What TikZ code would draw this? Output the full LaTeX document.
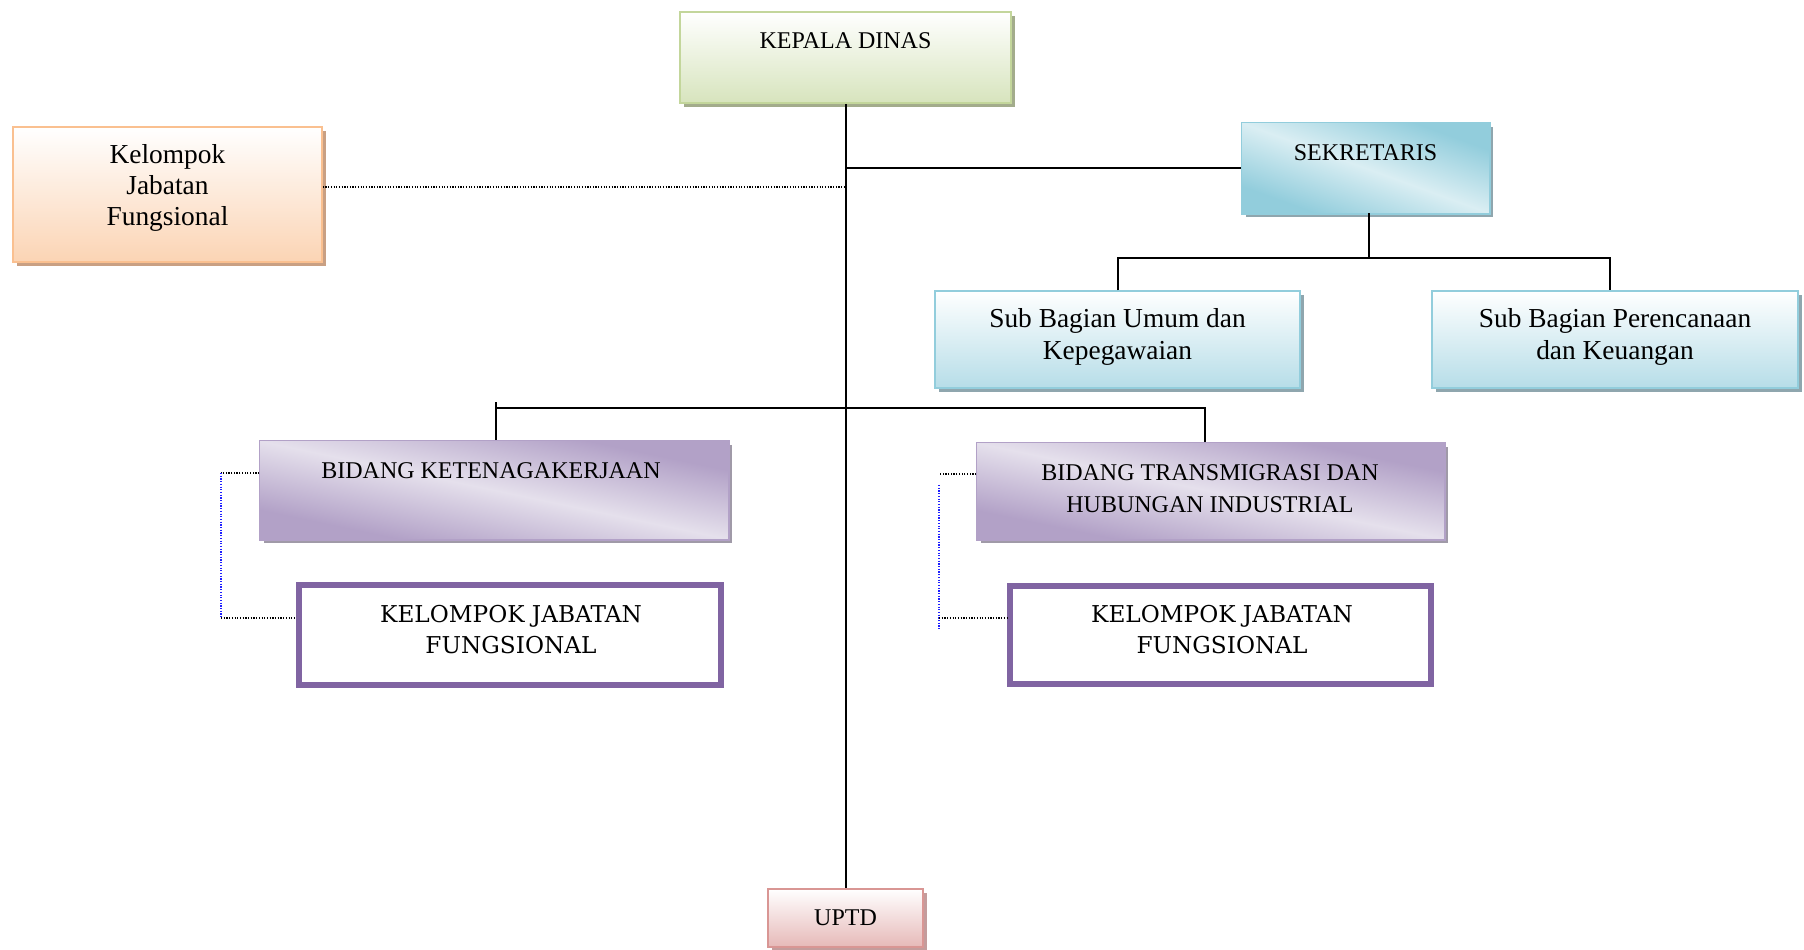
\documentclass[tikz,border=0pt]{standalone}
\usepackage{fontspec}
\setmainfont{Liberation Serif}
\newfontfamily\schfont{DejaVu Serif}
\usetikzlibrary{shadows}
\definecolor{grnbd}{HTML}{C3D69B}
\definecolor{grnfl}{HTML}{D7E4BD}
\definecolor{grnsh}{HTML}{A3AC8C}
\definecolor{orgbd}{HTML}{FAC090}
\definecolor{orgfl}{HTML}{FBD4B4}
\definecolor{orgsh}{HTML}{C9A083}
\definecolor{blubd}{HTML}{92CDDC}
\definecolor{blufl}{HTML}{B6DDE8}
\definecolor{blult}{HTML}{DAEEF3}
\definecolor{blush}{HTML}{8FA6AE}
\definecolor{purbd}{HTML}{B2A1C7}
\definecolor{purlt}{HTML}{E5E0EC}
\definecolor{pursh}{HTML}{A09AA8}
\definecolor{pnkbd}{HTML}{D99694}
\definecolor{pnkfl}{HTML}{E6B9B8}
\definecolor{pnksh}{HTML}{C49C9C}
\definecolor{kjfbd}{HTML}{8064A2}
\definecolor{dotblue}{HTML}{1F1FFF}
\begin{document}
\begin{tikzpicture}[x=0.5pt,y=-0.5pt,
  box/.style={rectangle, inner sep=0pt, line width=0.75pt},
  shad/.style={drop shadow={shadow xshift=2pt, shadow yshift=-2pt, fill=#1, opacity=1}},
  greenbox/.style={box, draw=grnbd, top color=white, bottom color=grnfl, shad=grnsh},
  orangebox/.style={box, draw=orgbd, top color=white, bottom color=orgfl, shad=orgsh},
  sekbox/.style={box, draw=blubd, fill=blubd, shad=blush},
  subbox/.style={box, draw=blubd, top color=white, bottom color=blufl, shad=blush},
  bidbox/.style={box, draw=purbd, fill=purbd, shad=pursh},
  pinkbox/.style={box, draw=pnkbd, top color=white, bottom color=pnkfl, shad=pnksh},
  kjfbox/.style={box, draw=kjfbd, line width=3pt, fill=white},
  sekshade/.style={left color=blubd, right color=blubd, middle color=blult, shading angle=-45},
  bidshade/.style={left color=purbd, right color=purbd, middle color=purlt, shading angle=-45},
  rim/.style={line width=0.75pt, draw=#1},
  txt/.style={inner sep=0pt, align=center, text=black},
  capt/.style={txt, font=\fontsize{12}{14}\selectfont},
  bidt/.style={txt, font=\fontsize{12}{16}\selectfont},
  lowt/.style={txt, font=\fontsize{13.7}{16}\selectfont},
  kjft/.style={txt, font=\schfont\fontsize{11.6}{15.5}\selectfont},
  conn/.style={line width=1pt, black},
  dotk/.style={line width=0.6pt, black, dash pattern=on 0.6pt off 0.75pt},
  dotb/.style={line width=0.6pt, dotblue, dash pattern=on 0.6pt off 0.75pt}
]
\useasboundingbox (0,0) rectangle (1804,949);

% boxes
\node[greenbox, minimum width=165.5pt, minimum height=45.5pt] (kepala) at (845.5,57.5) {};
\node[capt, anchor=base] (kepalaT) at (845.5,48) {KEPALA DINAS};

\node[orangebox, minimum width=154.5pt, minimum height=67.5pt] (kjfL) at (167.5,194.5) {};
\node[lowt, anchor=north, font=\fontsize{13.7}{15.5}\selectfont] (kjfLT) at (167.5,144) {Kelompok\\Jabatan\\Fungsional};

\node[sekbox, minimum width=123.5pt, minimum height=45pt] (sek) at (1365.5,168) {};
\begin{scope}[transform canvas={shift={(sek.center)}, xscale=1.235, yscale=0.45}]
  \shade[sekshade] (-100,-100) rectangle (100,100);
\end{scope}
\path[rim=blubd] (sek.north west) rectangle (sek.south east);
\node[capt, anchor=base] (sekT) at (1365.5,160) {SEKRETARIS};

\node[subbox, minimum width=182.5pt, minimum height=48.5pt] (sub1) at (1117.5,339.5) {};
\node[lowt, anchor=north] (sub1T) at (1117.5,308) {Sub Bagian Umum dan\\Kepegawaian};

\node[subbox, minimum width=183pt, minimum height=48.5pt] (sub2) at (1615,339.5) {};
\node[lowt, anchor=north] (sub2T) at (1615,308) {Sub Bagian Perencanaan\\dan Keuangan};

\node[bidbox, minimum width=234pt, minimum height=49pt] (bid1) at (494,490) {};
\begin{scope}[transform canvas={shift={(bid1.center)}, xscale=2.34, yscale=0.49}]
  \shade[bidshade] (-100,-100) rectangle (100,100);
\end{scope}
\path[rim=purbd] (bid1.north west) rectangle (bid1.south east);
\node[bidt, anchor=base] (bid1T) at (491,478) {BIDANG KETENAGAKERJAAN};

\node[bidbox, minimum width=233.5pt, minimum height=48pt] (bid2) at (1210.5,491) {};
\begin{scope}[transform canvas={shift={(bid2.center)}, xscale=2.335, yscale=0.48}]
  \shade[bidshade] (-100,-100) rectangle (100,100);
\end{scope}
\path[rim=purbd] (bid2.north west) rectangle (bid2.south east);
\node[bidt, anchor=north] (bid2T) at (1210,464) {BIDANG TRANSMIGRASI DAN\\HUBUNGAN INDUSTRIAL};

\node[kjfbox, minimum width=211pt, minimum height=50pt] (kel1) at (510,635) {};
\node[kjft, anchor=north] (kel1T) at (511,605) {KELOMPOK JABATAN\\FUNGSIONAL};

\node[kjfbox, minimum width=210.5pt, minimum height=49pt] (kel2) at (1220.5,635) {};
\node[kjft, anchor=north] (kel2T) at (1222,605) {KELOMPOK JABATAN\\FUNGSIONAL};

\node[pinkbox, minimum width=77.5pt, minimum height=29pt] (uptd) at (845.5,918) {};
\node[capt, anchor=base] (uptdT) at (845.5,925) {UPTD};

% coordinates
\coordinate (jL) at (845.5,187);
\coordinate (stop) at (1369,213);
\coordinate (sbar) at (1369,258);
\coordinate (s1) at (1118,258);
\coordinate (s2) at (1610,258);
\coordinate (tick) at (496,402);
\coordinate (bbar) at (845.5,407.5);
\coordinate (b2) at (1205,407.5);
\coordinate (dl1) at (221,473);
\coordinate (dl2) at (221,618);
\coordinate (dr1) at (940,474);
\coordinate (dr2a) at (939,485);
\coordinate (dr2b) at (939,630);
\coordinate (dr3) at (939,618);

% main trunk and branches
\draw[conn] (kepala.south) -- (uptd.north);
\draw[conn] (kepala.south |- sek.west) -- (sek.west);
\draw[dotk] (kjfL.east |- jL) -- (jL);
\draw[conn] (stop) -- (sbar);
\draw[conn] (sub1.north -| s1) -- (s1) -- (s2) -- (sub2.north -| s2);
\draw[conn] (tick) -- (bid1.north -| tick);
\draw[conn] (tick |- bbar) -- (b2) -- (bid2.north -| b2);

% dotted functional links
\draw[dotk] (bid1.west |- dl1) -- (dl1);
\draw[dotb] (dl1) -- (dl2);
\draw[dotk] (dl2) -- (kel1.west |- dl2);
\draw[dotk] (bid2.west |- dr1) -- (dr1);
\draw[dotb] (dr2a) -- (dr2b);
\draw[dotk] (dr3) -- (kel2.west |- dr3);
\end{tikzpicture}
\end{document}
